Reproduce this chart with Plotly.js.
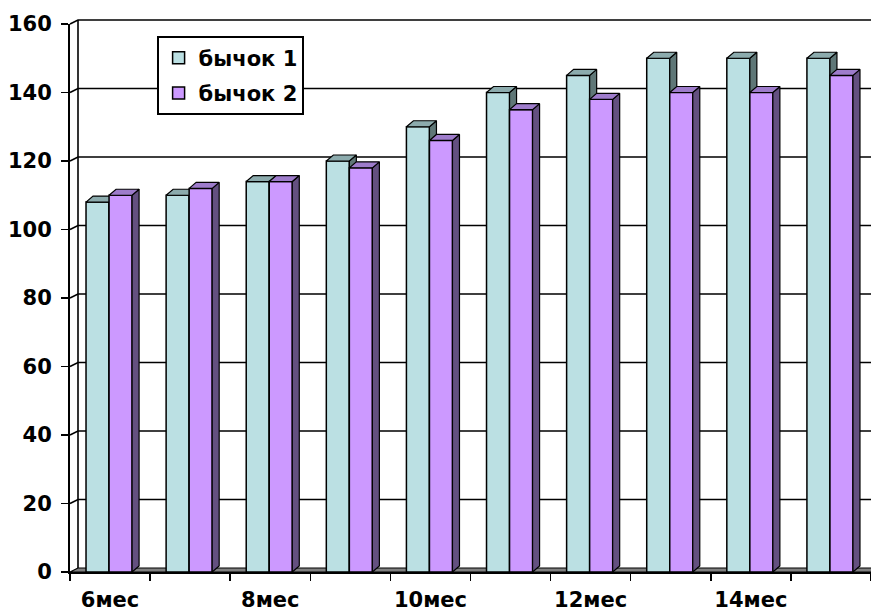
<!DOCTYPE html>
<html>
<head>
<meta charset="utf-8">
<script src="https://cdn.plot.ly/plotly-3.0.1.min.js"></script>
<style>
  html, body { margin: 0; padding: 0; background: #ffffff; }
  #chart { width: 871px; height: 612px; }
</style>
</head>
<body>
<div id="chart"></div>
<script>
// Live weight by month, two bull calves
const months = ['6мес', '7мес', '8мес', '9мес', '10мес', '11мес', '12мес', '13мес', '14мес', '15мес'];
const seriesNames = ['бычок 1', 'бычок 2'];
const bull1 = [108, 110, 114, 120, 130, 140, 145, 150, 150, 150];
const bull2 = [110, 112, 114, 118, 126, 135, 138, 140, 140, 145];
const yTicks = [0, 20, 40, 60, 80, 100, 120, 140, 160];

// Plot geometry (pixels) and pseudo-3D depth
const W = 871, H = 612;
const M = { l: 70, r: 0, t: 24, b: 40 };
const plotW = W - M.l - M.r, plotH = H - M.t - M.b;
const yMax = 160;
const pxPerX = plotW / months.length;
const pxPerY = plotH / yMax;
const barDepthPx = { x: 7, y: 6 };
const wallDepthPx = { x: 8, y: 4 };
const dX = barDepthPx.x / pxPerX;
const dY = barDepthPx.y / pxPerY;
const barW = 0.2875;
const offsets = [0.2, 0.2 + barW];

const colors = {
  s1: { front: '#BBE0E3', top: '#8CABAD', side: '#5F7777' },
  s2: { front: '#CC99FF', top: '#9E7CCB', side: '#645080' }
};

const FONT = { family: 'DejaVu Sans, Arial, sans-serif', size: 21, color: '#000000', weight: 'bold' };

function frontBar(vals, off, name, col, xa, ya, grp) {
  return {
    type: 'bar', name: name, legendgroup: grp,
    x: vals.map((_, i) => i + off + barW / 2),
    y: vals, width: barW,
    marker: { color: col.front, line: { color: '#000000', width: 1.5 } },
    xaxis: xa, yaxis: ya, hoverinfo: 'skip'
  };
}

function faces(vals, off, kind, col, xa, ya) {
  const xs = [], ys = [];
  vals.forEach((v, i) => {
    const x0 = i + off, x1 = x0 + barW;
    if (kind === 'top') {
      xs.push(x0, x1, x1 + dX, x0 + dX, x0, null);
      ys.push(v, v, v + dY, v + dY, v, null);
    } else {
      xs.push(x1, x1 + dX, x1 + dX, x1, x1, null);
      ys.push(0, dY, v + dY, v, 0, null);
    }
  });
  return {
    type: 'scatter', mode: 'lines', x: xs, y: ys, fill: 'toself',
    fillcolor: col[kind], line: { color: '#000000', width: 1.2 },
    xaxis: xa, yaxis: ya, showlegend: false, hoverinfo: 'skip'
  };
}

// Series 2 lives on an overlaid subplot so it is painted in front of series 1
const data = [
  frontBar(bull1, offsets[0], seriesNames[0], colors.s1, 'x', 'y', 'g1'),
  faces(bull1, offsets[0], 'side', colors.s1, 'x', 'y'),
  faces(bull1, offsets[0], 'top', colors.s1, 'x', 'y'),
  frontBar(bull2, offsets[1], seriesNames[1], colors.s2, 'x2', 'y2', 'g2'),
  faces(bull2, offsets[1], 'side', colors.s2, 'x2', 'y2'),
  faces(bull2, offsets[1], 'top', colors.s2, 'x2', 'y2')
];

// Back wall, floor and gridlines in paper units
const px2x = p => p / plotW;
const px2y = p => p / plotH;
const wx = px2x(wallDepthPx.x), wy = px2y(wallDepthPx.y);
const shapes = [];
shapes.push({
  type: 'path', xref: 'paper', yref: 'paper', layer: 'below',
  path: `M 0,0 L ${wx},${wy} L 1.01,${wy} L 1.01,0 Z`,
  fillcolor: '#808080', line: { color: '#000000', width: 1.2 }
});
shapes.push({
  type: 'path', xref: 'paper', yref: 'paper', layer: 'below',
  path: `M ${wx},${wy} L ${wx},${1 + wy}`,
  line: { color: '#000000', width: 1.6 }
});
yTicks.filter(v => v > 0).forEach(v => {
  const yp = v / yMax;
  shapes.push({
    type: 'path', xref: 'paper', yref: 'paper', layer: 'below',
    path: `M 0,${yp} L ${wx},${yp + wy} L 1.01,${yp + wy}`,
    line: { color: '#000000', width: 1.6 }
  });
});

const evenLabels = months.filter((_, i) => i % 2 === 0);
const evenPos = months.map((_, i) => i + 0.5).filter((_, i) => i % 2 === 0);

const layout = {
  width: W, height: H,
  margin: M,
  paper_bgcolor: '#ffffff', plot_bgcolor: 'rgba(0,0,0,0)',
  font: FONT,
  showlegend: true,
  legend: {
    x: (157 - M.l) / plotW, y: (H - M.b - 36) / plotH,
    xanchor: 'left', yanchor: 'top',
    bgcolor: '#ffffff', bordercolor: '#000000', borderwidth: 1.6,
    font: FONT, traceorder: 'grouped', tracegroupgap: 5
  },
  xaxis: {
    range: [0, months.length], tickmode: 'array',
    tickvals: months.map((_, i) => i).concat([months.length]),
    showticklabels: false, ticks: 'outside', ticklen: 7, tickwidth: 1.5, tickcolor: '#000000',
    showline: true, linecolor: '#000000', linewidth: 2,
    showgrid: false, zeroline: false, fixedrange: true
  },
  yaxis: {
    range: [0, yMax], tickmode: 'array', tickvals: yTicks,
    ticks: 'outside', ticklen: 7, tickwidth: 1.5, tickcolor: '#000000',
    ticklabelstandoff: 5,
    showline: true, linecolor: '#000000', linewidth: 2,
    showgrid: false, zeroline: false, tickfont: FONT, fixedrange: true
  },
  xaxis2: {
    overlaying: 'x', anchor: 'y2', side: 'bottom',
    range: [0, months.length], tickmode: 'array', tickvals: evenPos, ticktext: evenLabels,
    ticks: '', ticklabelstandoff: 13, showline: false, showgrid: false, zeroline: false,
    tickfont: FONT, fixedrange: true
  },
  yaxis2: {
    overlaying: 'y', anchor: 'x2', range: [0, yMax],
    visible: false, fixedrange: true
  },
  shapes: shapes
};

Plotly.newPlot('chart', data, layout, { staticPlot: true });
</script>
</body>
</html>
